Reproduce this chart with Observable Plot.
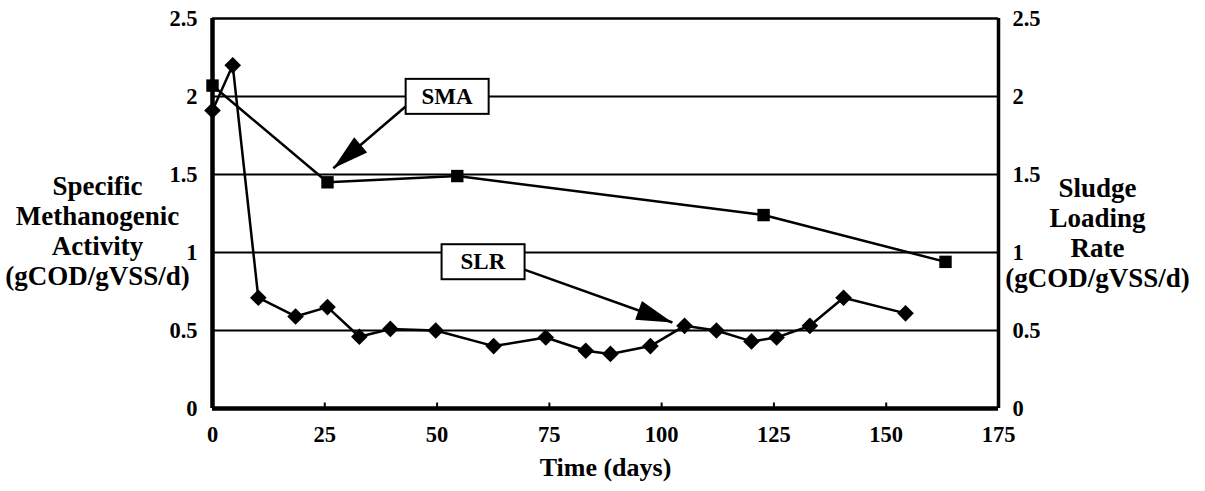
<!DOCTYPE html>
<html>
<head>
<meta charset="utf-8">
<script src="https://cdn.jsdelivr.net/npm/d3@7"></script>
<script src="https://cdn.jsdelivr.net/npm/@observablehq/plot@0.6"></script>
<style>
  html, body { margin: 0; padding: 0; background: white; }
  #chart svg { display: block; }
</style>
</head>
<body>
<div id="chart"></div>
<script>
// ---- data ----
const smaDays   = [0, 25.6, 54.5, 122.7, 163.2];
const smaValues = [2.07, 1.45, 1.49, 1.24, 0.94];

const slrDays   = [0, 4.5, 10.2, 18.5, 25.6, 32.7, 39.6, 49.7, 62.6, 74.2, 83.1, 88.6, 97.5, 105.1, 112.2, 120, 125.6, 133, 140.5, 154.3];
const slrValues = [1.91, 2.2, 0.71, 0.59, 0.65, 0.46, 0.51, 0.50, 0.40, 0.455, 0.37, 0.35, 0.40, 0.53, 0.50, 0.43, 0.455, 0.53, 0.71, 0.61];

const xTicks = [0, 25, 50, 75, 100, 125, 150, 175];
const yTicks = [0, 0.5, 1, 1.5, 2, 2.5];
const yTickLabels = ["0", "0.5", "1", "1.5", "2", "2.5"];
const gridValues = [0.5, 1, 1.5, 2];

const annoLabels = ["SMA", "SLR"];
const annoX = [52.2, 60.2];
const annoY = [2.0, 0.94];
const arrowX1 = [43.0, 68.8];
const arrowY1 = [1.936, 0.897];
const arrowX2 = [26.9, 102.4];
const arrowY2 = [1.54, 0.551];

const leftTitle = "Specific\nMethanogenic\nActivity\n(gCOD/gVSS/d)";
const rightTitle = "Sludge\nLoading\nRate\n(gCOD/gVSS/d)";
const xTitle = "Time (days)";

// ---- font: pick an installed serif family ----
function available(fam) {
  const ctx = document.createElement("canvas").getContext("2d");
  const s = "(gCOD/gVSS/d) Methanogenic 0.5";
  const res = [];
  for (const fb of ["monospace", "sans-serif"]) {
    ctx.font = `bold 40px ${fb}`;
    const w0 = ctx.measureText(s).width;
    ctx.font = `bold 40px "${fam}", ${fb}`;
    res.push(ctx.measureText(s).width !== w0);
  }
  return res[0] && res[1];
}
const candidates = ["Liberation Serif", "Times New Roman", "Tinos", "Nimbus Roman", "Noto Serif", "DejaVu Serif", "serif"];
const FAM = candidates.find(f => f === "serif" || available(f));
const FONT = FAM === "serif" ? "serif" : `"${FAM}", serif`;
const kCtx = document.createElement("canvas").getContext("2d");
kCtx.font = `bold 100px ${FONT}`;
const k = kCtx.measureText("(gCOD/gVSS/d)").width / 683.4; // relative to Times bold metrics
const fs = s => s / k;

// ---- layout ----
const W = 1205, H = 491, ML = 212, MR = 207, MT = 18, MB = 83;
const pxPerDay = (W - ML - MR) / 175;
const pxPerUnit = (H - MT - MB) / 2.5;

const sma = smaDays.map((d, i) => ({day: d, value: smaValues[i]}));
const slr = slrDays.map((d, i) => ({day: d, value: slrValues[i]}));
const annos = annoLabels.map((t, i) => ({text: t, x: annoX[i], y: annoY[i]}));
const arrows = annoLabels.map((t, i) => {
  const dx = (arrowX2[i] - arrowX1[i]) * pxPerDay;
  const dy = -(arrowY2[i] - arrowY1[i]) * pxPerUnit;
  return {x1: arrowX1[i], y1: arrowY1[i], x2: arrowX2[i], y2: arrowY2[i],
          angle: Math.atan2(dx, -dy) * 180 / Math.PI};
});
const tickLabel = new Map(yTicks.map((v, i) => [v, yTickLabels[i]]));

// elongated filled arrow head, tip at origin pointing up
const headSymbol = {
  draw(ctx) {
    ctx.moveTo(0, 0);
    ctx.lineTo(10, 36);
    ctx.lineTo(-10, 36);
    ctx.closePath();
  }
};

const chart = Plot.plot({
  width: W, height: H,
  marginLeft: ML, marginRight: MR, marginTop: MT, marginBottom: MB,
  style: {fontFamily: FONT, fontWeight: "bold", background: "white", color: "black"},
  x: {domain: [0, 175]},
  y: {domain: [0, 2.5]},
  marks: [
    Plot.ruleY(gridValues, {stroke: "black", strokeWidth: 2}),
    Plot.ruleX(xTicks.slice(1, -1), {y1: 0, y2: 0.035, stroke: "black", strokeWidth: 2}),
    // frame
    Plot.ruleY([2.5], {stroke: "black", strokeWidth: 2.5}),
    Plot.ruleX([175], {stroke: "black", strokeWidth: 3.5}),
    Plot.ruleX([0], {stroke: "black", strokeWidth: 4.5}),
    Plot.ruleY([0], {stroke: "black", strokeWidth: 4.5}),
    // axes
    Plot.axisX(xTicks, {anchor: "bottom", tickSize: 0, tickPadding: 18, fontSize: fs(22.5), fontWeight: "bold", fontFamily: FONT, label: null, tickFormat: d => String(d)}),
    Plot.axisY(yTicks, {anchor: "left", tickSize: 0, tickPadding: 15, fontSize: fs(22.5), fontWeight: "bold", fontFamily: FONT, label: null, tickFormat: d => tickLabel.get(d)}),
    Plot.axisY(yTicks, {anchor: "right", tickSize: 0, tickPadding: 14, fontSize: fs(22.5), fontWeight: "bold", fontFamily: FONT, label: null, tickFormat: d => tickLabel.get(d)}),
    // series
    Plot.line(sma, {x: "day", y: "value", stroke: "black", strokeWidth: 2.5}),
    Plot.line(slr, {x: "day", y: "value", stroke: "black", strokeWidth: 2.5}),
    Plot.dot(sma, {x: "day", y: "value", symbol: "square", r: 7, fill: "black", stroke: "none"}),
    Plot.dot(slr, {x: "day", y: "value", symbol: "diamond2", r: 7.5, fill: "black", stroke: "none"}),
    // annotation arrows
    Plot.link(arrows, {x1: "x1", y1: "y1", x2: "x2", y2: "y2", stroke: "black", strokeWidth: 2.5}),
    Plot.dot(arrows, {x: "x2", y: "y2", symbol: headSymbol, rotate: "angle", fill: "black", stroke: "none"}),
    // annotation labels
    Plot.text(annos, {x: "x", y: "y", text: "text", fontSize: fs(23), fontWeight: "bold", fontFamily: FONT, fill: "black", className: "anno"}),
    // titles
    Plot.text([leftTitle], {frameAnchor: "left", dx: -115, dy: 17, textAnchor: "middle", fontSize: fs(27), fontWeight: "bold", fontFamily: FONT, lineHeight: 1.11 * k, fill: "black"}),
    Plot.text([rightTitle], {frameAnchor: "right", dx: 99, dy: 19, textAnchor: "middle", fontSize: fs(27), fontWeight: "bold", fontFamily: FONT, lineHeight: 1.1 * k, fill: "black"}),
    Plot.text([xTitle], {frameAnchor: "bottom", dy: 67, textAnchor: "middle", fontSize: fs(26), fontWeight: "bold", fontFamily: FONT, fill: "black"})
  ]
});

document.getElementById("chart").appendChild(chart);

// white boxes behind the annotation labels
d3.select(chart).selectAll("g.anno text").each(function() {
  const b = this.getBBox();
  const tr = this.getAttribute("transform");
  const padX = (83 - b.width) / 2, padY = (35 - b.height) / 2;
  const rect = document.createElementNS("http://www.w3.org/2000/svg", "rect");
  rect.setAttribute("x", b.x - padX);
  rect.setAttribute("y", b.y - padY);
  rect.setAttribute("width", b.width + 2 * padX);
  rect.setAttribute("height", b.height + 2 * padY);
  rect.setAttribute("fill", "white");
  rect.setAttribute("stroke", "black");
  rect.setAttribute("stroke-width", 2);
  if (tr) rect.setAttribute("transform", tr);
  this.parentNode.insertBefore(rect, this);
});
</script>
</body>
</html>
